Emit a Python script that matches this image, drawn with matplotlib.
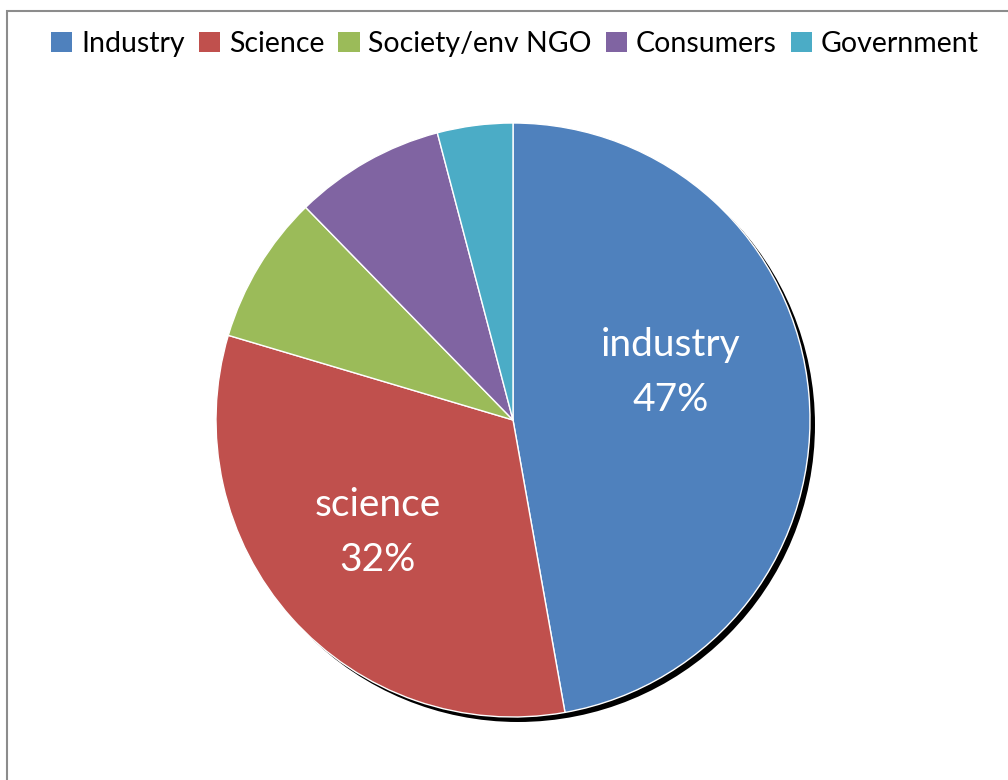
import matplotlib.pyplot as plt
from matplotlib.patches import Circle, Rectangle

plt.rcParams['font.family'] = ['Lato', 'DejaVu Sans']

categories = ['Industry', 'Science', 'Society/env NGO', 'Consumers', 'Government']
shares = [47.2, 32.4, 8.1, 8.2, 4.1]
colors = ['#4F81BD', '#C0504D', '#9BBB59', '#8064A2', '#4BACC6']
inner_labels = ['industry', 'science', '', '', '']

W, H = 1008, 780
fig = plt.figure(figsize=(W / 100, H / 100), dpi=100)

# chart-area border (only top and left visible in the crop)
fig.patches.append(Rectangle((7 / W, -0.1), 1.2, 1 - 11 / H + 0.1,
                             transform=fig.transFigure, fill=False,
                             edgecolor='#8c8c8c', linewidth=1.5))

r = 297
cx, cy = 513, H - 420
ax = fig.add_axes([(cx - r) / W, (cy - r) / H, 2 * r / W, 2 * r / H])

# drop shadow behind the pie
off = 5 / r
ax.add_patch(Circle((off, -off), 1.0, facecolor='black', zorder=0, clip_on=False))

wedges, _ = ax.pie(shares, colors=colors, startangle=90, counterclock=False,
                   radius=1.0, wedgeprops=dict(edgecolor='white', linewidth=1))
for w in wedges:
    w.set_zorder(1)
    w.set_clip_on(False)
ax.set_xlim(-1, 1)
ax.set_ylim(-1, 1)
ax.axis('off')

total = sum(shares)
label_pos = [(0.53, 0.16), (-0.455, -0.38)]
for i, pos in enumerate(label_pos):
    pct = round(100 * shares[i] / total)
    ax.text(pos[0], pos[1], f'{inner_labels[i]}\n{pct}%', color='white',
            fontsize=28, ha='center', va='center', linespacing=1.65, zorder=3)

handles = [Rectangle((0, 0), 1, 1, facecolor=c, edgecolor='none') for c in colors]
fig.legend(handles, categories, loc='center', bbox_to_anchor=(515 / W, 1 - 44 / H),
           ncol=5, frameon=False, fontsize=20.5, handlelength=0.75, handleheight=0.75,
           handletextpad=0.3, columnspacing=0.5, borderaxespad=0)

plt.savefig('out.png', dpi=100)
